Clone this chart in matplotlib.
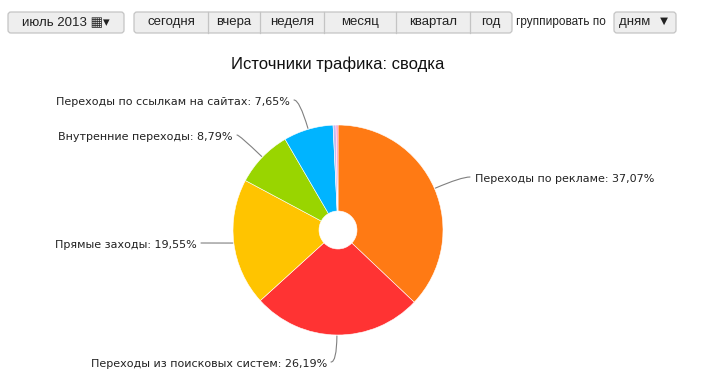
import numpy as np
import matplotlib.pyplot as plt
from matplotlib.patches import FancyBboxPatch

# chart data
labels = ['Переходы по рекламе', 'Переходы из поисковых систем', 'Прямые заходы',
          'Внутренние переходы', 'Переходы по ссылкам на сайтах', '', '']
shares = [37.07, 26.19, 19.55, 8.79, 7.65, 0.45, 0.30]
colors = ['#FF7A14', '#FF3333', '#FFC400', '#99D500', '#00B4FF', '#C9B8EC', '#FF8CC6']

periods = ['сегодня', 'вчера', 'неделя', 'месяц', 'квартал', 'год']
period_edges = [134, 208, 260, 324, 396, 470, 512]

W, H = 721, 385
fig = plt.figure(figsize=(W / 100, H / 100), dpi=100)
ax = fig.add_axes([0, 0, 1, 1])

def py(y):
    # pixel row from the top -> data y
    return H - y

btn_font = ['Liberation Sans', 'DejaVu Sans']

def button(x0, x1, y0, y1, text):
    box = FancyBboxPatch((x0, py(y1)), x1 - x0, y1 - y0,
                         boxstyle='round,pad=0,rounding_size=3',
                         facecolor='#eeeeee', edgecolor='#c4c4c4', linewidth=0.9)
    ax.add_patch(box)
    ax.text((x0 + x1) / 2, py((y0 + y1) / 2), text, ha='center', va='center',
            fontsize=9.5, family=btn_font, color='#222222')

# pie
cx, cy, R, r_in = 338, py(230), 105, 19
ax.pie(shares, colors=colors, startangle=90, counterclock=False,
       center=(cx, cy), radius=R, frame=True,
       wedgeprops=dict(width=R - r_in, edgecolor='white', linewidth=0.4))
ax.set_xlim(0, W)
ax.set_ylim(0, H)
ax.axis('off')

# top controls
button(8, 124, 12, 33, 'июль 2013 ▦▾')
grp = FancyBboxPatch((period_edges[0], py(33)), period_edges[-1] - period_edges[0], 21,
                     boxstyle='round,pad=0,rounding_size=3',
                     facecolor='#eeeeee', edgecolor='#c4c4c4', linewidth=0.9)
ax.add_patch(grp)
for i, name in enumerate(periods):
    x0, x1 = period_edges[i], period_edges[i + 1]
    if i > 0:
        ax.plot([x0, x0], [py(12), py(33)], color='#c4c4c4', lw=0.9)
    ax.text((x0 + x1) / 2, py(22.5), name, ha='center', va='center',
            fontsize=9.5, family=btn_font, color='#222222')
ax.text(516, py(21.5), 'группировать по', ha='left', va='center', fontsize=8.5,
        family=['Liberation Sans Narrow', 'Liberation Sans'], color='#222222')
button(614, 676, 12, 33, 'дням  ▼')

# title
ax.text(338, py(64), 'Источники трафика: сводка', ha='center', va='center',
        fontsize=12, family=btn_font, color='#111111')

# label text anchors, in pixels
label_pos = [(475, 179, 'left'), (327, 364, 'right'), (197, 245, 'right'),
             (233, 137, 'right'), (290, 102, 'right')]
cum = np.cumsum([0] + shares)
for i in range(5):
    mid = (cum[i] + cum[i + 1]) / 2 / 100 * 360
    ang_deg = 90 - mid
    ang = np.deg2rad(ang_deg)
    ex, ey = cx + (R + 1) * np.cos(ang), cy + (R + 1) * np.sin(ang)
    tx, ty, ha = label_pos[i]
    txt = f'{labels[i]}: {shares[i]:.2f}%'.replace('.', ',')
    ax.text(tx, py(ty), txt, ha=ha, va='center', fontsize=8,
            family='DejaVu Sans', color='#222222')
    sx = tx - 5 if ha == 'left' else tx + 4
    sy = py(ty) + 2
    if abs(np.sin(ang)) < 0.2:
        cs = 'arc3,rad=0'
    else:
        cs = f'angle3,angleA=0,angleB={ang_deg:.1f}'
    ax.annotate('', xy=(ex, ey), xytext=(sx, sy),
                arrowprops=dict(arrowstyle='-', color='#808080', lw=0.8,
                                shrinkA=0, shrinkB=0, connectionstyle=cs))

fig.savefig('out.png', dpi=100)
